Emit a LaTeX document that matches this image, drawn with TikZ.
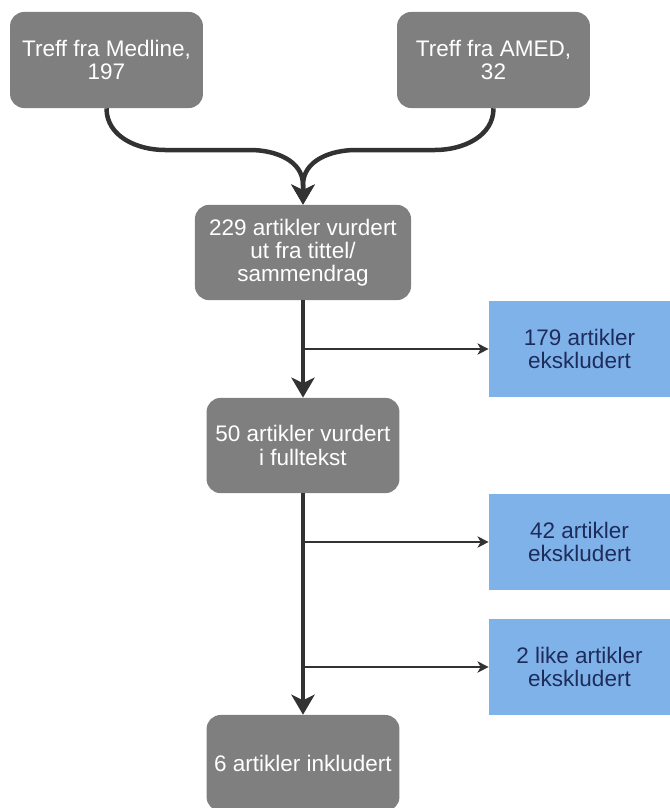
\documentclass[tikz,border=0pt]{standalone}
\usepackage{fontspec}
\setmainfont{Liberation Sans}
\usetikzlibrary{arrows.meta}
\definecolor{boxgray}{RGB}{127,127,127}
\definecolor{exclblue}{RGB}{128,178,234}
\definecolor{textnavy}{RGB}{30,44,92}
\definecolor{linegray}{RGB}{50,50,50}
\begin{document}
\begin{tikzpicture}[x=0.025cm, y=-0.025cm,
	stage/.style={fill=boxgray, rounded corners=0.35cm, text=white, align=center, minimum width=4.82cm, minimum height=2.4cm, font=\fontsize{16}{16.5}\selectfont},
	excl/.style={fill=exclblue, text=textnavy, align=center, minimum width=4.525cm, minimum height=2.42cm, font=\fontsize{16}{16.5}\selectfont},
	flow/.style={line width=3.2pt, draw=linegray, -{Stealth[length=5mm, width=5.8mm, inset=1.4mm]}},
	branch/.style={line width=1.3pt, draw=linegray, -{Stealth[length=2.8mm, width=2.8mm, inset=0.8mm]}}]
\useasboundingbox (0,0) rectangle (670,808);
\node[stage] (medline) at (106.5,60) {Treff fra Medline,\\197};
\node[stage] (amed) at (493.5,60) {Treff fra AMED,\\32};
\node[stage, minimum width=5.4cm, minimum height=2.38cm] (screen) at (303,252.5) {229 artikler vurdert\\ut fra tittel/\\sammendrag};
\node[stage, minimum height=2.38cm] (full) at (303,445.5) {50 artikler vurdert\\i fulltekst};
\node[stage] (incl) at (303,763) {6 artikler inkludert};
\node[excl] (ex1) at (579.5,349) {179 artikler\\ekskludert};
\node[excl] (ex2) at (579.5,542) {42 artikler\\ekskludert};
\node[excl] (ex3) at (579.5,667) {2 like artikler\\ekskludert};
\coordinate (join) at (303,185);

\draw[branch] (screen.south |- ex1.west) -- (ex1.west);
\draw[branch] (full.south |- ex2.west) -- (ex2.west);
\draw[branch] (full.south |- ex3.west) -- (ex3.west);
\draw[flow] (medline.south) to[out=-90, in=180] (165,150) -- (250,150) to[out=0, in=90] (join) -- (screen.north);
\draw[flow] (amed.south) to[out=-90, in=0] (435,150) -- (356,150) to[out=180, in=90] (join) -- (screen.north);
\draw[flow] (screen) -- (full);
\draw[flow] (full) -- (incl);

\end{tikzpicture}
\end{document}
